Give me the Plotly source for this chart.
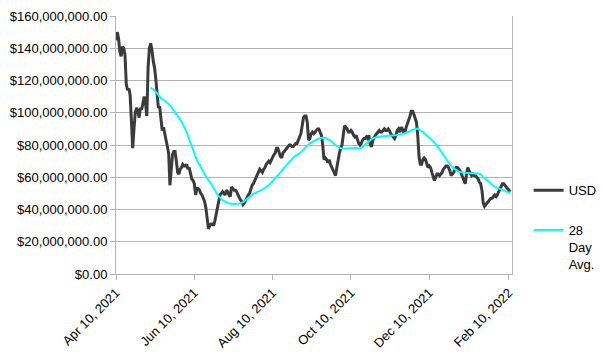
import pandas as pd
import plotly.graph_objects as go

start_date = "2021-04-10"

# Daily USD values (millions), Apr 10, 2021 onward
usd_millions = [
    145, 150, 146, 138, 135, 141, 140, 136, 118, 114,
    115, 111, 95, 78, 90, 100, 103, 101, 97, 103,
    102, 106, 110, 106, 98, 128, 140, 143, 139, 132,
    128, 121, 110, 103, 104, 95, 89, 91, 87, 84,
    81, 75, 55, 68, 74, 76, 76, 70, 63, 62,
    65, 66, 68, 67, 67, 68, 65, 66, 62, 59,
    58, 56, 49, 53, 53, 52, 50, 49, 47, 45,
    41, 35, 28, 30, 31, 31, 30, 33, 37, 42,
    46, 49, 50, 51, 50, 49, 52, 51, 49, 48,
    54, 53, 52, 52, 51, 49, 47, 46, 45, 43,
    44, 46, 47, 49, 50, 53, 55, 56, 58, 60,
    62, 64, 65, 64, 63, 65, 66, 68, 69, 70,
    69, 71, 72, 74, 75, 78, 78, 75, 73, 72,
    75, 76, 77, 78, 79, 80, 80, 79, 79, 80,
    81, 81, 83, 85, 87, 92, 97, 98, 98, 94,
    83, 84, 87, 88, 87, 88, 89, 90, 90, 88,
    86, 80, 71, 72, 71, 69, 71, 68, 66, 64,
    62, 61, 66, 71, 75, 78, 80, 86, 92, 91,
    90, 88, 88, 89, 88, 86, 85, 86, 83, 81,
    80, 81, 83, 84, 84, 85, 84, 86, 80, 79,
    83, 85, 86, 87, 88, 89, 88, 88, 89, 90,
    89, 89, 90, 89, 87, 86, 85, 84, 86, 89,
    90, 88, 91, 90, 88, 88, 91, 93, 96, 98,
    101, 101, 99, 97, 94, 86, 73, 68, 68, 71,
    72, 71, 68, 66, 67, 66, 63, 60, 58, 60,
    62, 62, 61, 62, 63, 65, 66, 67, 67, 66,
    64, 61, 62, 63, 65, 66, 66, 65, 64, 62,
    60, 57, 56, 62, 66, 64, 62, 61, 62, 61,
    61, 60, 59, 57, 56, 52, 44, 42, 43, 44,
    45, 46, 47, 47, 48, 49, 48, 49, 51, 53,
    55, 56, 56, 55, 54, 53, 52, 51,
]

# 28 day average (millions), read every 4 days starting on day 27
avg_start_offset = 27
avg_step_days = 4
avg_millions = [
    115.7, 113.0, 109.0, 106.8, 103.8, 99.5, 94.5, 88.0, 79.5, 70.5,
    65.0, 59.3, 55.0, 49.0, 45.8, 44.0, 43.3, 43.5, 44.6, 47.0,
    49.7, 51.3, 52.8, 55.0, 58.3, 62.0, 66.0, 69.5, 72.8, 74.8,
    78.0, 81.0, 82.8, 84.3, 84.5, 82.7, 80.0, 78.0, 77.8, 77.8,
    77.8, 78.2, 81.0, 83.7, 85.0, 85.2, 85.6, 85.8, 86.2, 86.8,
    87.7, 89.5, 90.2, 88.0, 85.3, 82.3, 78.5, 74.0, 69.2, 65.5,
    63.5, 62.8, 62.4, 62.3, 62.3, 59.5, 56.5, 54.0, 52.8, 51.5,
    50.2,
]

tick_dates = ["2021-04-10", "2021-06-10", "2021-08-10", "2021-10-10", "2021-12-10", "2022-02-10"]
tick_labels = ["Apr 10, 2021", "Jun 10, 2021", "Aug 10, 2021", "Oct 10, 2021", "Dec 10, 2021", "Feb 10, 2022"]
y_tick_values = [0, 20e6, 40e6, 60e6, 80e6, 100e6, 120e6, 140e6, 160e6]

usd_dates = pd.date_range(start_date, periods=len(usd_millions), freq="D")
usd_values = [v * 1e6 for v in usd_millions]
avg_dates = pd.date_range(pd.Timestamp(start_date) + pd.Timedelta(days=avg_start_offset),
                          periods=len(avg_millions), freq=f"{avg_step_days}D")
avg_values = [v * 1e6 for v in avg_millions]

FONT = "Liberation Sans, Arial, sans-serif"

fig = go.Figure()
fig.add_trace(go.Scatter(
    x=usd_dates, y=usd_values, mode="lines", name="USD",
    line=dict(color="#3b3b3b", width=3), legendgroup="a",
))
fig.add_trace(go.Scatter(
    x=avg_dates, y=avg_values, mode="lines", name="28<br>Day<br>Avg.",
    line=dict(color="#00ffff", width=2), legendgroup="b",
))

fig.update_layout(
    width=604, height=354,
    margin=dict(l=116, r=92, t=16, b=80, autoexpand=False),
    paper_bgcolor="white", plot_bgcolor="white",
    font=dict(family=FONT, size=13, color="#000000"),
    showlegend=True,
    legend=dict(
        x=1.042, y=0.383, xanchor="left", yanchor="top",
        font=dict(family=FONT, size=13, color="#000000"),
        tracegroupgap=20, valign="top", bgcolor="rgba(0,0,0,0)",
        itemwidth=30,
    ),
    xaxis=dict(
        type="date",
        range=["2021-04-10", "2022-02-12 10:00"],
        tickvals=tick_dates, ticktext=tick_labels,
        tickangle=-45, automargin=False,
        ticks="outside", ticklen=5, tickcolor="#b3b3b3",
        showline=True, linecolor="#b3b3b3", linewidth=1,
        showgrid=False, zeroline=False,
        tickfont=dict(family=FONT, size=13, color="#000000"),
    ),
    yaxis=dict(
        range=[0, 160e6],
        tickvals=y_tick_values, automargin=False,
        tickformat="$,.2f",
        ticks="outside", ticklen=5, tickcolor="#b3b3b3",
        showline=True, linecolor="#b3b3b3", linewidth=1, mirror=True,
        showgrid=True, gridcolor="#b3b3b3", gridwidth=1,
        zeroline=False,
        tickfont=dict(family=FONT, size=13, color="#000000"),
    ),
)

fig.write_html("out.html")
